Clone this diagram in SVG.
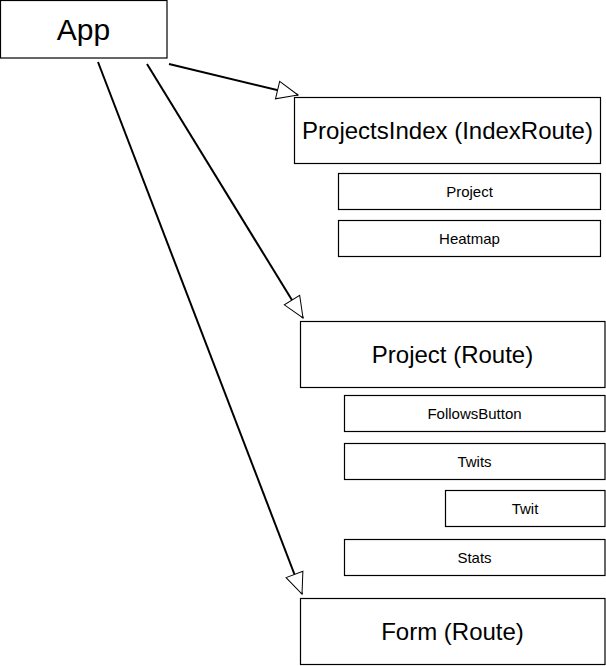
<svg xmlns="http://www.w3.org/2000/svg" width="606" height="666" viewBox="0 0 606 666">
<style>
.box{fill:#fff;stroke:#000;stroke-width:1.2}
.big{font-family:"Liberation Sans",Arial,sans-serif;font-size:24px;text-anchor:middle;fill:#000}
.small{font-family:"Liberation Sans",Arial,sans-serif;font-size:15px;text-anchor:middle;fill:#000}
.edge{stroke:#000;stroke-width:2;fill:none;marker-end:url(#arr)}
</style>
<defs>
<marker id="arr" markerUnits="userSpaceOnUse" markerWidth="26" markerHeight="22" refX="22" refY="10" orient="auto" overflow="visible">
<path d="M1,1 L22,10 L1,19 Z" fill="#fff" stroke="#000" stroke-width="1"/>
</marker>
</defs>
<rect width="606" height="666" fill="#fff"/>
<g id="connectors">
<line class="edge" x1="169" y1="64" x2="298" y2="95"/>
<line class="edge" x1="147" y1="64" x2="303" y2="318"/>
<line class="edge" x1="98" y1="62" x2="302" y2="594"/>
</g>
<g id="app"><rect class="box" x="0.5" y="0.5" width="166.5" height="57.5"/><text class="big" x="83.5" y="40" style="font-size:30px">App</text></g>
<g id="projectsindex"><rect class="box" x="294.5" y="97.5" width="306" height="66"/><text class="big" x="447.5" y="139">ProjectsIndex (IndexRoute)</text></g>
<g id="project-item"><rect class="box" x="338.5" y="173.5" width="262" height="36"/><text class="small" x="469.5" y="197">Project</text></g>
<g id="heatmap"><rect class="box" x="338.5" y="220.5" width="262" height="36"/><text class="small" x="469.5" y="244">Heatmap</text></g>
<g id="project-route"><rect class="box" x="300.5" y="321.5" width="304.5" height="66"/><text class="big" x="452.5" y="363">Project (Route)</text></g>
<g id="followsbutton"><rect class="box" x="344.5" y="395.5" width="260.5" height="36"/><text class="small" x="474.5" y="419">FollowsButton</text></g>
<g id="twits"><rect class="box" x="344.5" y="443.5" width="260.5" height="36"/><text class="small" x="474.5" y="467">Twits</text></g>
<g id="twit"><rect class="box" x="445.5" y="490.5" width="159.5" height="36"/><text class="small" x="525" y="514">Twit</text></g>
<g id="stats"><rect class="box" x="344.5" y="539.5" width="260.5" height="36"/><text class="small" x="474.5" y="563">Stats</text></g>
<g id="form-route"><rect class="box" x="300.5" y="598.5" width="304.5" height="66"/><text class="big" x="452.5" y="640">Form (Route)</text></g>
</svg>
